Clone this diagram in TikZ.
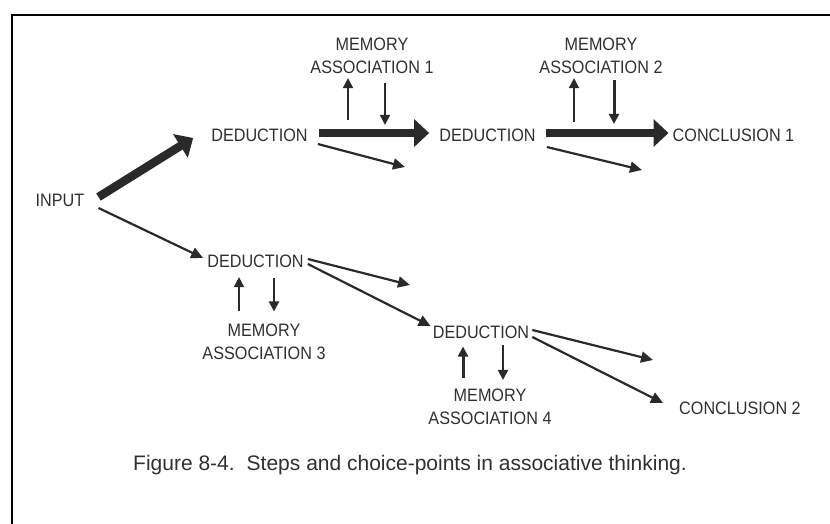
\documentclass[tikz,border=0pt]{standalone}
\usepackage{fontspec}
\setmainfont{Liberation Sans}
\newfontfamily\lblfont[FakeStretch=0.9]{Liberation Sans}
\usetikzlibrary{arrows.meta,calc}
\definecolor{ink}{HTML}{303030}
\definecolor{linecol}{HTML}{2A2A2A}

\begin{document}
\begin{tikzpicture}[x=1pt,y=-1pt,
  lbl/.style={inner sep=0pt, text=ink, align=center,
    font=\lblfont\fontsize{18}{23}\selectfont},
  bigarrow/.style={draw=linecol, line width=8.5pt,
    -{Triangle[length=15pt,width=27pt]}},
  thinarrow/.style={draw=linecol, line width=2.2pt,
    -{Triangle[length=12pt,width=11pt]}},
  memarrow/.style={draw=linecol, line width=1.7pt,
    -{Triangle[length=10pt,width=10pt]}},
  memheavy/.style={memarrow, line width=3pt}
]
\useasboundingbox (0,0) rectangle (830,523);
% frame (top and left edges)
\draw[line width=2.6pt, line join=miter] (12,540) -- (12,15) -- (850,15);

% labels
\node[lbl] (input) at (60,200) {INPUT};
\node[lbl] (d1) at (259.5,135) {DEDUCTION};
\node[lbl] (d2) at (487.5,135) {DEDUCTION};
\node[lbl] (c1) at (733.5,135) {CONCLUSION 1};
\node[lbl] (m1) at (372,55.5) {MEMORY\\ASSOCIATION 1};
\node[lbl] (m2) at (601,55.5) {MEMORY\\ASSOCIATION 2};
\node[lbl] (d3) at (255.5,261) {DEDUCTION};
\node[lbl] (m3) at (264,342) {MEMORY\\ASSOCIATION 3};
\node[lbl] (d4) at (481,332) {DEDUCTION};
\node[lbl] (m4) at (490,407) {MEMORY\\ASSOCIATION 4};
\node[lbl] (c2) at (740,408) {CONCLUSION 2};
\node[inner sep=0pt, text=ink, anchor=base west,
  font=\fontsize{21}{25}\selectfont] (cap) at (133,470)
  {Figure 8-4.\hspace{12pt}Steps and choice-points in associative thinking.};

% upper chain
\draw[bigarrow] ($(input.east)+(14,-3)$) -- ($(d1.west)+(-18,3)$);
\draw[bigarrow] ($(d1.east)+(11,-2)$) -- ($(d2.west)+(-10,-2)$);
\draw[bigarrow] ($(d2.east)+(10,-2)$) -- ($(c1.west)+(-4,-2)$);
\coordinate (x1) at (405,167);
\coordinate (x2) at (642,170);
\draw[thinarrow] ($(d1.east)+(10,9)$) -- (x1);
\draw[thinarrow] ($(d2.east)+(11,12)$) -- (x2);

% memory exchanges, upper row
\coordinate (u1) at (348,0);
\coordinate (v1) at (385,0);
\coordinate (u2) at (574,0);
\coordinate (v2) at (614,0);
\draw[memarrow, shorten <=8.5pt, shorten >=4.5pt] (u1 |- d1.north) -- (u1 |- m1.south);
\draw[memarrow, shorten <=9.5pt, shorten >=3.5pt] (v1 |- m1.south) -- (v1 |- d1.north);
\draw[memarrow, shorten <=6.5pt, shorten >=4.5pt] (u2 |- d2.north) -- (u2 |- m2.south);
\draw[memheavy, shorten <=6.5pt, shorten >=4.5pt] (v2 |- m2.south) -- (v2 |- d2.north);

% lower chain
\draw[thinarrow] ($(input.east)+(14,8)$) -- ($(d3.west)+(-4,-3)$);
\coordinate (x3) at (410,285);
\draw[thinarrow] ($(d3.east)+(4,-2)$) -- (x3);
\draw[thinarrow] ($(d3.east)+(4,3)$) -- ($(d4.west)+(-2,-6)$);
\coordinate (x4) at (653,360);
\draw[thinarrow] ($(d4.east)+(3,-2)$) -- (x4);
\draw[thinarrow] ($(d4.east)+(3,5)$) -- ($(c2.west)+(-16,-5)$);

% memory exchanges, lower row
\coordinate (u3) at (239,0);
\coordinate (v3) at (274,0);
\coordinate (u4) at (463,0);
\coordinate (v4) at (503,0);
\draw[memarrow, shorten <=12.5pt, shorten >=9.5pt] (u3 |- m3.north) -- (u3 |- d3.south);
\draw[memarrow, line width=2.2pt, shorten <=10.5pt, shorten >=12.5pt] (v3 |- d3.south) -- (v3 |- m3.north);
\draw[memheavy, shorten <=10.5pt, shorten >=8pt] (u4 |- m4.north) -- (u4 |- d4.south);
\draw[memarrow, line width=2.2pt, shorten <=6.5pt, shorten >=9pt] (v4 |- d4.south) -- (v4 |- m4.north);
\end{tikzpicture}
\end{document}
